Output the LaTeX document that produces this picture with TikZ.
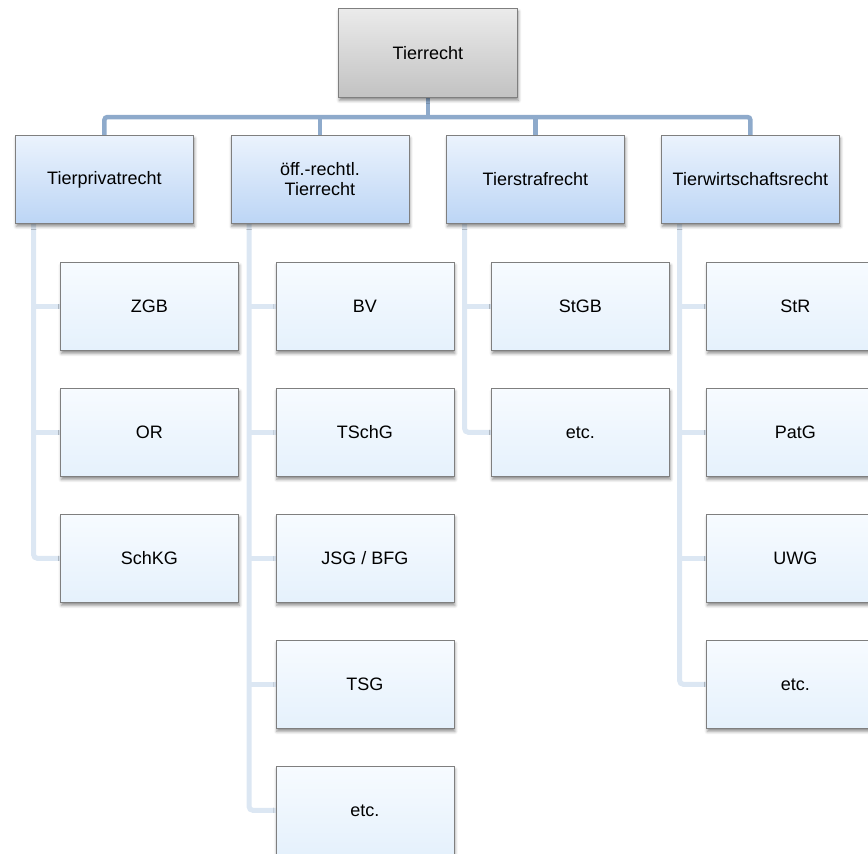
\documentclass[tikz,border=0pt]{standalone}
\usepackage{fontspec}
\setmainfont{Liberation Sans}
\usetikzlibrary{shadows.blur,backgrounds}

\definecolor{busblue}{HTML}{8EAACB}
\definecolor{twigblue}{HTML}{DCE7F3}
\definecolor{framegray}{HTML}{7F7F7F}
\definecolor{headtop}{HTML}{EBF3FD}
\definecolor{headbot}{HTML}{BCD5F5}
\definecolor{leaftop}{HTML}{F7FBFF}
\definecolor{leafbot}{HTML}{E5F1FC}
\definecolor{roottop}{HTML}{EBEBEB}
\definecolor{rootbot}{HTML}{C2C2C2}

\tikzset{
  box/.style={draw=framegray, line width=0.8pt, minimum width=178pt, minimum height=88pt,
    anchor=north west, align=center, inner sep=2pt,
    font=\fontsize{18}{20}\selectfont,
    blur shadow={shadow xshift=1pt, shadow yshift=-3pt, shadow blur radius=3pt, shadow opacity=45}},
  rootbox/.style={box, top color=roottop, bottom color=rootbot},
  headbox/.style={box, top color=headtop, bottom color=headbot},
  leafbox/.style={box, top color=leaftop, bottom color=leafbot},
  bus/.style={draw=busblue, line width=4.5pt},
  twig/.style={draw=twigblue, line width=5pt},
}

\begin{document}
\begin{tikzpicture}[x=1pt, y=-1pt]
\useasboundingbox (0,0) rectangle (868,854);

% root
\node[rootbox, minimum width=179pt, minimum height=89pt] (root) at (338,8) {Tierrecht};

% second level
\node[headbox] (pa) at (15,135)    {Tierprivatrecht};
\node[headbox] (pb) at (230.5,135) {öff.-rechtl.\\Tierrecht};
\node[headbox] (pc) at (446,135)   {Tierstrafrecht};
\node[headbox] (pd) at (661,135)   {Tierwirtschaftsrecht};

% leaves
\node[leafbox] (a1) at (60,262)  {ZGB};
\node[leafbox] (a2) at (60,388)  {OR};
\node[leafbox] (a3) at (60,514)  {SchKG};

\node[leafbox] (b1) at (275.5,262) {BV};
\node[leafbox] (b2) at (275.5,388) {TSchG};
\node[leafbox] (b3) at (275.5,514) {JSG / BFG};
\node[leafbox] (b4) at (275.5,640) {TSG};
\node[leafbox] (b5) at (275.5,766) {etc.};

\node[leafbox] (c1) at (491,262) {StGB};
\node[leafbox] (c2) at (491,388) {etc.};

\node[leafbox] (d1) at (706,262) {StR};
\node[leafbox] (d2) at (706,388) {PatG};
\node[leafbox] (d3) at (706,514) {UWG};
\node[leafbox] (d4) at (706,640) {etc.};

\begin{pgfonlayer}{background}
  % main bus
  \coordinate (busy) at (0,117);
  \draw[bus] (root.south) -- (root.south |- busy);
  \draw[bus, rounded corners=3pt] (pa.north) |- (busy -| pd.north) -- (pd.north);
  \draw[bus] (pb.north) -- (pb.north |- busy);
  \draw[bus] (pc.north) -- (pc.north |- busy);

  % column spines
  \coordinate (va) at ([xshift=18.5pt]pa.south west);
  \coordinate (vb) at ([xshift=18.5pt]pb.south west);
  \coordinate (vc) at ([xshift=18.5pt]pc.south west);
  \coordinate (vd) at ([xshift=18.5pt]pd.south west);

  \draw[twig, rounded corners=4pt] (va) |- (a3.west);
  \draw[twig] (va |- a1.west) -- (a1.west);
  \draw[twig] (va |- a2.west) -- (a2.west);

  \draw[twig, rounded corners=4pt] (vb) |- (b5.west);
  \foreach \n in {b1,b2,b3,b4} \draw[twig] (vb |- \n.west) -- (\n.west);

  \draw[twig, rounded corners=4pt] (vc) |- (c2.west);
  \draw[twig] (vc |- c1.west) -- (c1.west);

  \draw[twig, rounded corners=4pt] (vd) |- (d4.west);
  \foreach \n in {d1,d2,d3} \draw[twig] (vd |- \n.west) -- (\n.west);
\end{pgfonlayer}
\end{tikzpicture}
\end{document}
